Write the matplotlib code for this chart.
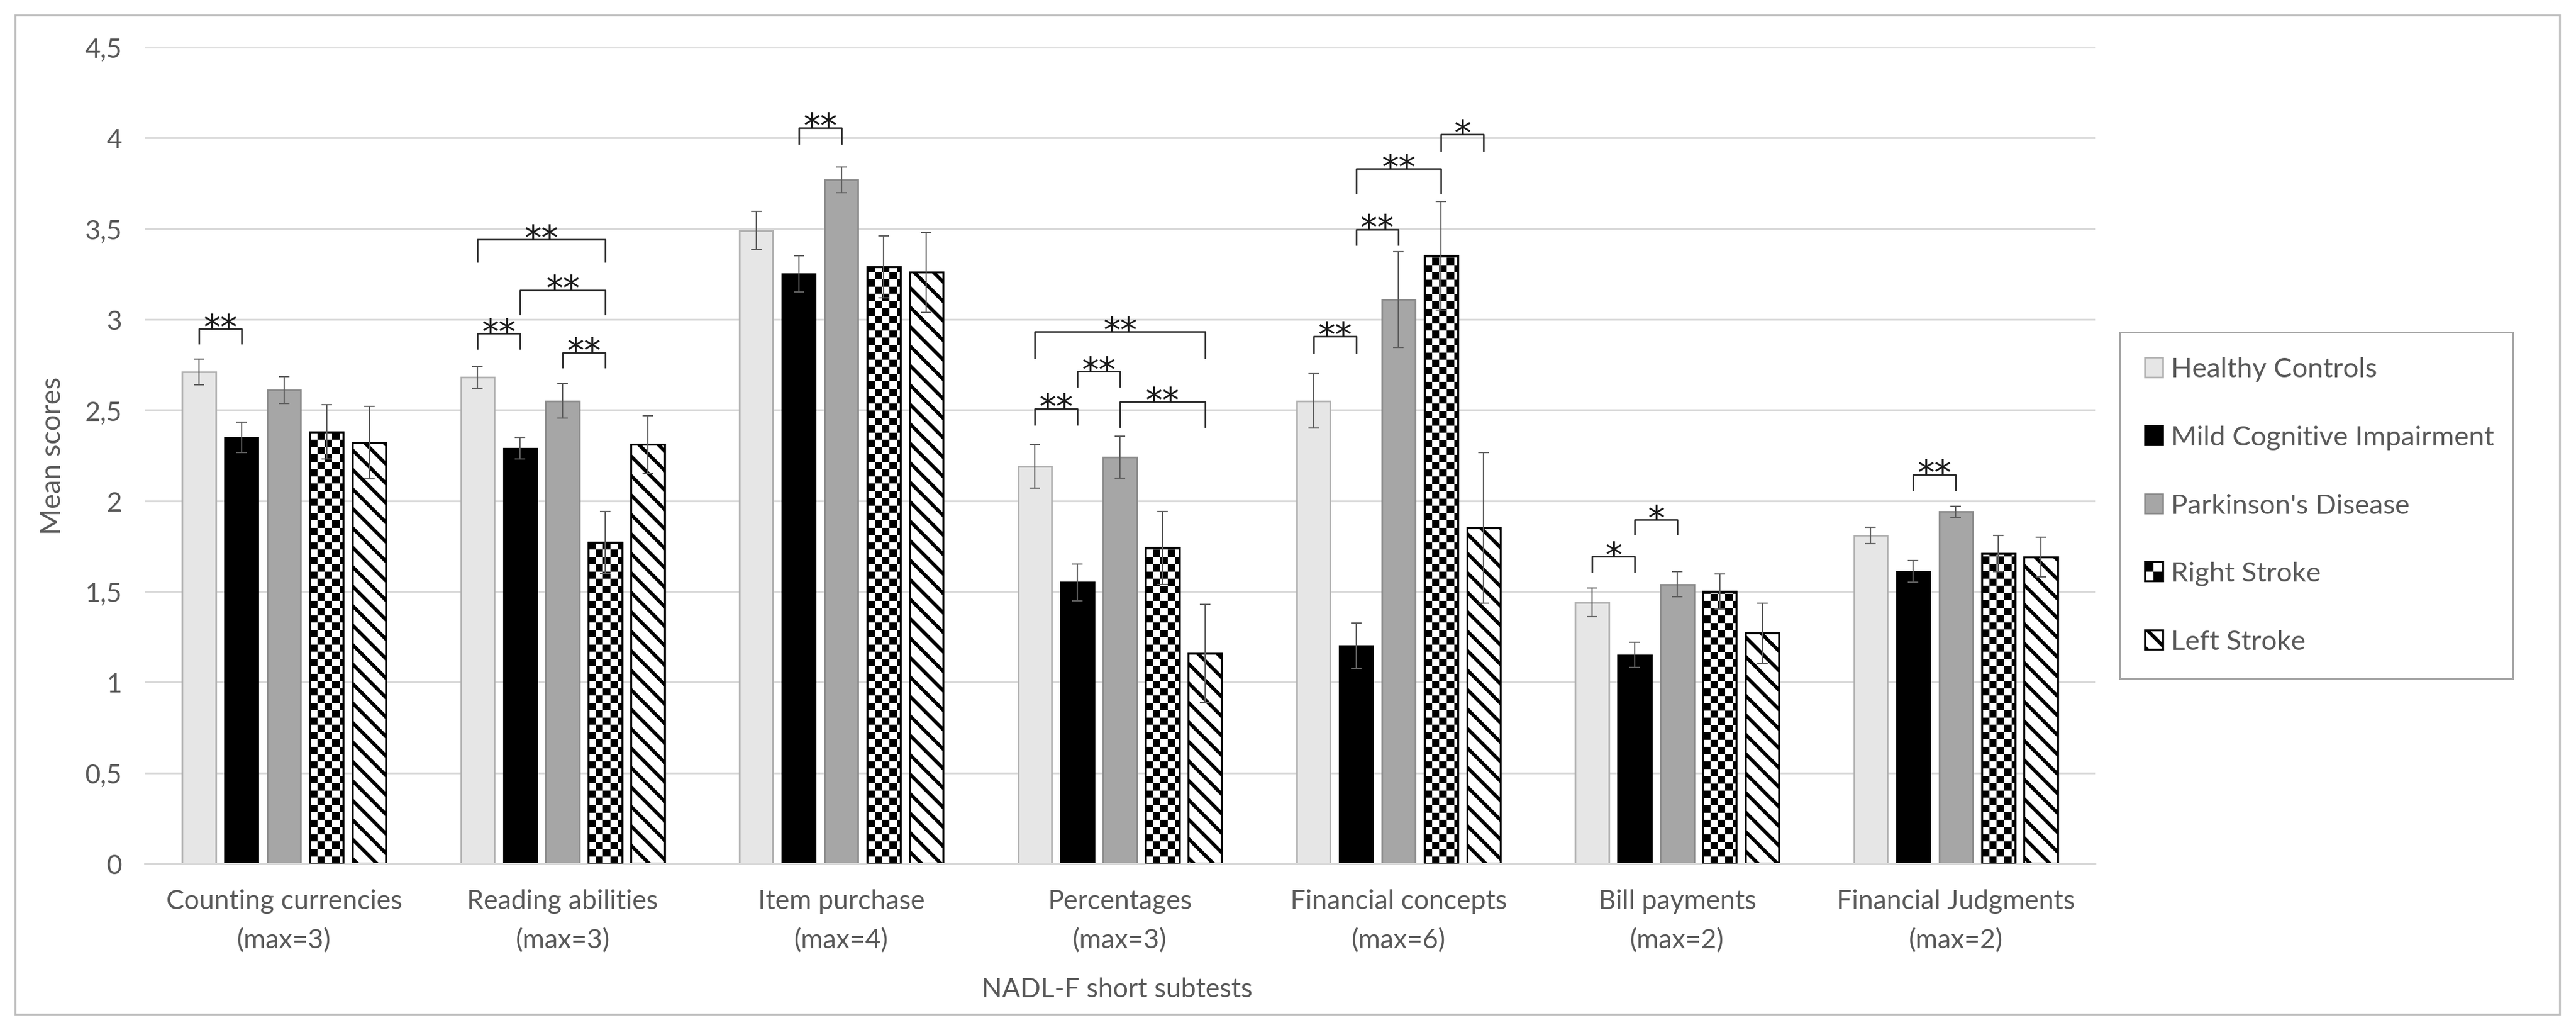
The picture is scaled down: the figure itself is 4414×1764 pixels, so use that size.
import numpy as np
import matplotlib
matplotlib.use('Agg')
import matplotlib.pyplot as plt
from matplotlib.patches import Rectangle
from matplotlib.legend_handler import HandlerBase
from matplotlib.colors import ListedColormap
from matplotlib.ticker import FuncFormatter, MultipleLocator

# ---------------- data ----------------
categories = ["Counting currencies\n(max=3)", "Reading abilities\n(max=3)",
              "Item purchase\n(max=4)", "Percentages\n(max=3)",
              "Financial concepts\n(max=6)", "Bill payments\n(max=2)",
              "Financial Judgments\n(max=2)"]
group_names = ["Healthy Controls", "Mild Cognitive Impairment",
               "Parkinson's Disease", "Right Stroke", "Left Stroke"]

hc = [2.71, 2.68, 3.49, 2.19, 2.55, 1.44, 1.81]
hc_err = [0.07, 0.06, 0.105, 0.12, 0.15, 0.08, 0.045]
mci = [2.35, 2.29, 3.25, 1.55, 1.20, 1.15, 1.61]
mci_err = [0.085, 0.06, 0.10, 0.10, 0.125, 0.07, 0.06]
pdis = [2.61, 2.55, 3.77, 2.24, 3.11, 1.54, 1.94]
pdis_err = [0.075, 0.095, 0.07, 0.115, 0.265, 0.07, 0.03]
rs = [2.38, 1.77, 3.29, 1.74, 3.35, 1.50, 1.71]
rs_err = [0.15, 0.17, 0.17, 0.20, 0.30, 0.095, 0.10]
ls = [2.32, 2.31, 3.26, 1.16, 1.85, 1.27, 1.69]
ls_err = [0.20, 0.16, 0.22, 0.27, 0.415, 0.165, 0.11]

# significance brackets: (category, group a, group b, bracket top, leg bottom, label)
brackets = [
    (0, 0, 1, 2.948, 2.867, '**'),
    (1, 0, 3, 3.44, 3.32, '**'),
    (1, 1, 3, 3.161, 3.03, '**'),
    (1, 0, 1, 2.922, 2.84, '**'),
    (1, 2, 3, 2.817, 2.737, '**'),
    (2, 1, 2, 4.056, 3.969, '**'),
    (3, 0, 4, 2.931, 2.787, '**'),
    (3, 1, 2, 2.713, 2.631, '**'),
    (3, 0, 1, 2.509, 2.422, '**'),
    (3, 2, 4, 2.546, 2.409, '**'),
    (4, 0, 1, 2.906, 2.817, '**'),
    (4, 1, 2, 3.496, 3.413, '**'),
    (4, 1, 3, 3.83, 3.694, '**'),
    (4, 3, 4, 4.019, 3.931, '*'),
    (5, 0, 1, 1.693, 1.608, '*'),
    (5, 1, 2, 1.895, 1.816, '*'),
    (6, 1, 2, 2.144, 2.06, '**'),
]

# ---------------- style ----------------
plt.rcParams['font.family'] = ['Lato', 'DejaVu Sans']
plt.rcParams['hatch.linewidth'] = 2.2
TXT = '#595959'
FS = 16.5

W, H, DPI = 4414, 1765, 200
fig = plt.figure(figsize=(W / DPI, H / DPI), dpi=DPI)
ax_l, ax_r, ax_t, ax_b = 248, 3590, 82, 1480
ax = fig.add_axes([ax_l / W, 1 - ax_b / H, (ax_r - ax_l) / W, (ax_b - ax_t) / H])

n = len(categories)
x = np.arange(n)
step, width = 0.1527, 0.12
values = [hc, mci, pdis, rs, ls]
errors = [hc_err, mci_err, pdis_err, rs_err, ls_err]
styles = [
    dict(facecolor='#e6e6e6', edgecolor='#b0b0b0', linewidth=1.0),
    dict(facecolor='black', edgecolor='black', linewidth=1.0),
    dict(facecolor='#a6a6a6', edgecolor='#8a8a8a', linewidth=1.0),
    dict(facecolor='white', edgecolor='black', linewidth=1.2),
    dict(facecolor='white', edgecolor='black', linewidth=1.2, hatch='\\\\'),
]

xlim = (-0.5, n - 0.5)
ylim = (0, 4.5)
ax.set_xlim(*xlim)
ax.set_ylim(*ylim)

containers = []
for k in range(5):
    pos = x + (k - 2) * step
    bc = ax.bar(pos, values[k], width, zorder=2, **styles[k])
    containers.append(bc)
    ax.errorbar(pos, values[k], yerr=errors[k], fmt='none', ecolor='#5f5f5f',
                elinewidth=0.8, capsize=3.4, capthick=0.8, zorder=5)

# checkerboard texture for Right Stroke bars
cell_px = 12.5
cx = cell_px * (xlim[1] - xlim[0]) / (ax_r - ax_l)
cy = cell_px * (ylim[1] - ylim[0]) / (ax_b - ax_t)
cmap = ListedColormap(['white', 'black'])
for rect in containers[3].patches:
    x0, w, h = rect.get_x(), rect.get_width(), rect.get_height()
    ncol = int(np.ceil(w / cx))
    nrow = int(np.ceil(h / cy))
    arr = np.add.outer(np.arange(nrow), np.arange(ncol)) % 2
    im = ax.imshow(arr, cmap=cmap, vmin=0, vmax=1, origin='lower',
                   extent=(x0, x0 + ncol * cx, 0, nrow * cy),
                   interpolation='nearest', aspect='auto', zorder=2.5)
    im.set_clip_path(rect)
ax.bar(x + step, rs, width, fill=False, edgecolor='black', linewidth=1.2, zorder=3)

ax.set_xlim(*xlim)
ax.set_ylim(*ylim)

# brackets
for c, ga, gb, yt, yb, lab in brackets:
    xa = x[c] + (ga - 2) * step
    xb = x[c] + (gb - 2) * step
    ax.plot([xa, xa, xb, xb], [yb, yt, yt, yb], color='#262626', lw=0.95,
            zorder=6, solid_joinstyle='round')
    ax.text((xa + xb) / 2, yt, lab, ha='center', va='center', fontsize=21,
            family='DejaVu Sans', color='#1a1a1a', zorder=7)

# axes styling
ax.yaxis.set_major_locator(MultipleLocator(0.5))
ax.yaxis.set_major_formatter(FuncFormatter(lambda v, p: f"{v:g}".replace('.', ',')))
ax.set_xticks(x)
ax.set_xticklabels(categories, fontsize=FS, color=TXT)
for lbl in ax.get_xticklabels():
    lbl.set_linespacing(1.7)
ax.tick_params(axis='y', labelsize=FS, labelcolor=TXT, length=0, pad=14)
ax.tick_params(axis='x', length=0, pad=15.5)
ax.yaxis.grid(True, color='#d9d9d9', lw=1.1, zorder=0)
ax.set_axisbelow(True)
for s in ['left', 'right', 'top']:
    ax.spines[s].set_visible(False)
ax.spines['bottom'].set_color('#d9d9d9')
ax.spines['bottom'].set_linewidth(1.1)

ax.set_ylabel('Mean scores', fontsize=17.5, color=TXT)
ax.yaxis.set_label_coords((112 - ax_l) / (ax_r - ax_l), 0.5)
ax.set_xlabel('NADL-F short subtests', fontsize=FS, color=TXT)
ax.xaxis.set_label_coords((1914 - ax_l) / (ax_r - ax_l), (ax_b - 1695) / (ax_b - ax_t))
ax.xaxis.label.set_va('center')


# legend
class HandlerChecker(HandlerBase):
    def create_artists(self, legend, orig_handle, xdescent, ydescent, width, height, fontsize, trans):
        x0, y0 = -xdescent, -ydescent
        bg = Rectangle((x0, y0), width, height, facecolor='white', edgecolor='none', transform=trans)
        q1 = Rectangle((x0, y0 + height / 2), width / 2, height / 2, facecolor='black', edgecolor='none', transform=trans)
        q2 = Rectangle((x0 + width / 2, y0), width / 2, height / 2, facecolor='black', edgecolor='none', transform=trans)
        border = Rectangle((x0, y0), width, height, fill=False, edgecolor='black', lw=1.2, transform=trans)
        return [bg, q1, q2, border]


rs_proxy = Rectangle((0, 0), 1, 1)
handles = [containers[0], containers[1], containers[2], rs_proxy, containers[4]]
leg_top, leg_bot = 570, 1157
leg = fig.legend(handles, group_names, loc='upper left',
                 bbox_to_anchor=(3632 / W, 1 - leg_bot / H, (4306 - 3632) / W, (leg_bot - leg_top) / H),
                 mode='expand', borderaxespad=0, fontsize=17, labelcolor=TXT,
                 handlelength=0.66, handleheight=0.7, handletextpad=0.3,
                 labelspacing=1.58, borderpad=0.9, fancybox=False, framealpha=1,
                 edgecolor='#a6a6a6', handler_map={rs_proxy: HandlerChecker()})
leg.get_frame().set_linewidth(1.1)

# outer chart border
fig.add_artist(Rectangle((26 / W, 1 - 1738 / H), (4386 - 26) / W, (1738 - 27) / H,
                         transform=fig.transFigure, fill=False, edgecolor='#bfbfbf', lw=1.2))

fig.savefig('out.png', dpi=DPI)
